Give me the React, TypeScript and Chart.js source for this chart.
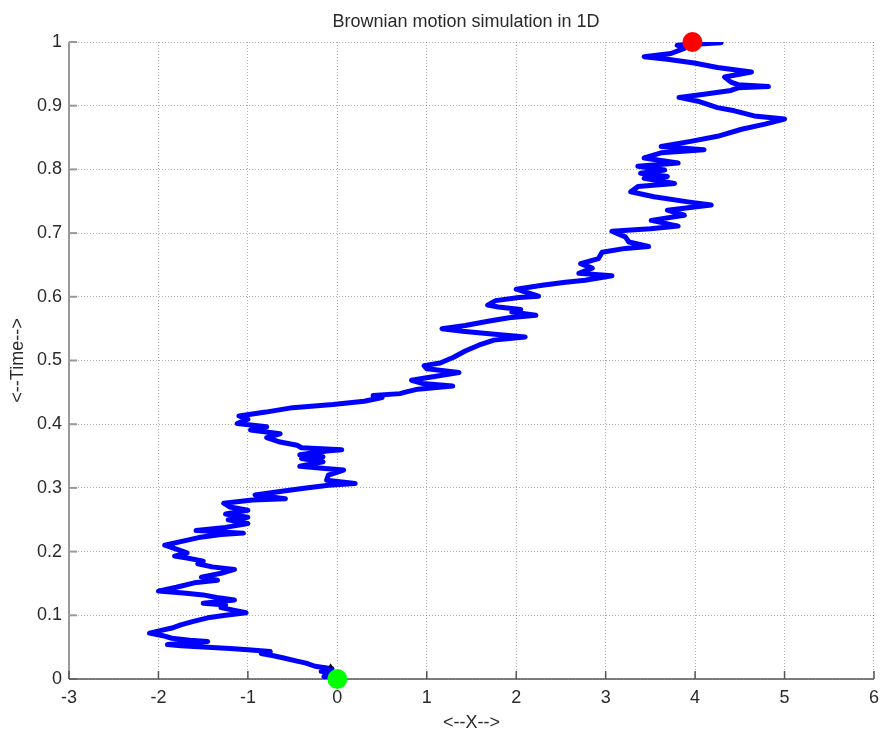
import React, { useEffect, useRef } from 'react';
import { Chart, registerables } from 'chart.js';

Chart.register(...registerables);

// Brownian path: X position and time
const pathX = [
  0, -0.15, -0.05, -0.18, -0.06, -0.25, -0.35, -0.45, -0.6, -0.7,
  -0.85, -0.75, -1.0, -1.2, -1.45, -1.75, -1.9, -1.7, -1.45, -1.65,
  -1.85, -1.95, -2.1, -1.98, -1.85, -1.75, -1.62, -1.45, -1.25, -1.02,
  -1.3, -1.25, -1.5, -1.15, -1.35, -1.5, -1.72, -2.0, -1.8, -1.6,
  -1.34, -1.52, -1.3, -1.15, -1.4, -1.56, -1.5, -1.68, -1.82, -1.68,
  -1.8, -1.93,
  -1.74, -1.55, -1.3, -1.05, -1.58, -1.25, -1.0, -1.22, -1.0, -1.25,
  -1.0, -1.2, -1.27, -0.95, -0.58, -0.92, -0.6, -0.35, -0.1, 0.2,
  -0.12, -0.1, 0.07, -0.17, -0.42, -0.16, -0.4, -0.16, -0.42, -0.12,
  0.05, -0.4, -0.45, -0.64, -0.79, -0.64, -0.97, -0.79, -1.12, -1.0,
  -1.1, -0.8, -0.5, -0.05, 0.3, 0.5, 0.4, 0.7,
  0.75, 0.9, 1.29, 0.95, 0.83, 1.05, 1.36, 1.0, 0.97, 1.15,
  1.3, 1.43, 1.58, 1.75, 2.1, 1.7, 1.4, 1.17, 1.43, 1.7,
  1.92, 2.22, 1.95, 2.05, 1.8, 1.68, 1.77, 2.03, 2.25, 2.0,
  2.29, 2.55, 2.77, 3.07, 2.7, 2.85, 2.72, 2.92, 2.96, 3.22,
  3.48, 3.26, 3.22, 3.07,
  3.5, 3.81, 3.51, 3.88, 3.69, 4.18, 3.92, 3.54, 3.28, 3.36,
  3.77, 3.43, 3.69, 3.39, 3.66, 3.36, 3.81, 3.43, 3.62, 4.1,
  3.62, 3.95, 4.25, 4.52, 4.78, 5.0, 4.66, 4.44, 4.25, 4.03,
  3.82, 4.1, 4.4, 4.48, 4.82, 4.48, 4.4, 4.33, 4.63, 4.25,
  3.99, 3.69, 3.43, 3.73, 3.88, 3.8, 4.29, 3.97,
];

const pathT = [
  0, 0.004, 0.008, 0.012, 0.016, 0.02, 0.025, 0.028, 0.033, 0.036,
  0.04, 0.043, 0.046, 0.048, 0.05, 0.052, 0.054, 0.056, 0.059, 0.061,
  0.064, 0.068, 0.072, 0.076, 0.08, 0.085, 0.09, 0.096, 0.1, 0.104,
  0.112, 0.116, 0.119, 0.124, 0.128, 0.132, 0.135, 0.138, 0.144, 0.151,
  0.155, 0.16, 0.166, 0.172, 0.176, 0.181, 0.185, 0.19, 0.193, 0.198,
  0.204, 0.21,
  0.216, 0.222, 0.227, 0.229, 0.233, 0.238, 0.244, 0.25, 0.254, 0.259,
  0.265, 0.27, 0.276, 0.281, 0.283, 0.289, 0.295, 0.3, 0.304, 0.307,
  0.312, 0.32, 0.328, 0.331, 0.334, 0.341, 0.346, 0.349, 0.352, 0.358,
  0.36, 0.363, 0.367, 0.372, 0.379, 0.385, 0.391, 0.396, 0.401, 0.408,
  0.413, 0.419, 0.426, 0.431, 0.436, 0.442, 0.445, 0.448,
  0.45, 0.455, 0.46, 0.464, 0.469, 0.474, 0.481, 0.487, 0.492, 0.496,
  0.505, 0.515, 0.524, 0.532, 0.537, 0.542, 0.546, 0.55, 0.555, 0.562,
  0.567, 0.571, 0.576, 0.58, 0.584, 0.587, 0.594, 0.599, 0.601, 0.612,
  0.618, 0.623, 0.626, 0.633, 0.637, 0.645, 0.652, 0.66, 0.67, 0.676,
  0.679, 0.686, 0.694, 0.703,
  0.707, 0.711, 0.72, 0.728, 0.736, 0.744, 0.749, 0.757, 0.765, 0.773,
  0.778, 0.786, 0.789, 0.794, 0.799, 0.805, 0.81, 0.818, 0.826, 0.831,
  0.836, 0.844, 0.852, 0.863, 0.871, 0.879, 0.884, 0.892, 0.897, 0.907,
  0.913, 0.918, 0.924, 0.928, 0.93, 0.933, 0.937, 0.945, 0.953, 0.96,
  0.967, 0.973, 0.977, 0.982, 0.99, 0.995, 0.999, 1.0,
];

const startPoint = { x: 0, y: 0 };
const endPoint = { x: 3.97, y: 1 };
const smallMark = { x: -0.075, y: 0.02 };

const xTicks = [-3, -2, -1, 0, 1, 2, 3, 4, 5, 6];
const yTicks = [0, 0.1, 0.2, 0.3, 0.4, 0.5, 0.6, 0.7, 0.8, 0.9, 1];
const yTickLabels = ['0', '0.1', '0.2', '0.3', '0.4', '0.5', '0.6', '0.7', '0.8', '0.9', '1'];

const titleText = 'Brownian motion simulation in 1D';
const xTitle = '<--X-->';
const yTitle = '<--Time-->';

const FONT = '"Liberation Sans", Arial, Helvetica, sans-serif';

const decorPlugin = {
  id: 'decor',
  beforeDatasetsDraw(chart: any) {
    const { ctx, chartArea: a, scales } = chart;
    ctx.save();
    ctx.setLineDash([]);
    // left axis
    ctx.strokeStyle = '#999999';
    ctx.lineWidth = 2;
    ctx.beginPath();
    ctx.moveTo(a.left, a.top);
    ctx.lineTo(a.left, a.bottom);
    ctx.stroke();
    scales.y.ticks.forEach((t: any) => {
      const py = scales.y.getPixelForValue(t.value);
      ctx.beginPath();
      ctx.moveTo(a.left, py);
      ctx.lineTo(a.left + 8, py);
      ctx.stroke();
    });
    // bottom axis
    ctx.strokeStyle = '#555555';
    ctx.lineWidth = 1.5;
    ctx.beginPath();
    ctx.moveTo(a.left, a.bottom);
    ctx.lineTo(a.right, a.bottom);
    ctx.stroke();
    scales.x.ticks.forEach((t: any) => {
      const px = scales.x.getPixelForValue(t.value);
      ctx.beginPath();
      ctx.moveTo(px, a.bottom);
      ctx.lineTo(px, a.bottom - 8);
      ctx.stroke();
    });
    ctx.restore();
  },
  afterDraw(chart: any) {
    const { ctx, chartArea: a } = chart;
    ctx.save();
    ctx.fillStyle = '#2a2a2a';
    ctx.font = `18px ${FONT}`;
    ctx.textAlign = 'center';
    ctx.textBaseline = 'middle';
    ctx.fillText(titleText, 466, 22);
    ctx.fillText(xTitle, (a.left + a.right) / 2, 723);
    ctx.translate(18, (a.top + a.bottom) / 2);
    ctx.rotate(-Math.PI / 2);
    ctx.fillText(yTitle, 0, 0);
    ctx.restore();
  },
};

export default function App() {
  const canvasRef = useRef<HTMLCanvasElement | null>(null);

  useEffect(() => {
    document.body.style.margin = '0';
    const canvas = canvasRef.current;
    if (!canvas) return;
    const path = pathX.map((x, i) => ({ x, y: pathT[i] }));
    const chart = new Chart(canvas, {
      type: 'scatter',
      data: {
        datasets: [
          {
            data: [startPoint],
            pointRadius: 10,
            pointBackgroundColor: '#00ff00',
            pointBorderWidth: 0,
            order: 0,
            clip: false,
          } as any,
          {
            data: [endPoint],
            pointRadius: 10,
            pointBackgroundColor: '#ff0000',
            pointBorderWidth: 0,
            order: 0,
            clip: false,
          } as any,
          {
            data: [smallMark],
            pointStyle: 'triangle',
            pointRadius: 3,
            pointBackgroundColor: '#000000',
            pointBorderWidth: 0,
            order: 1,
          } as any,
          {
            data: path,
            showLine: true,
            borderColor: '#0000ff',
            borderWidth: 5,
            borderJoinStyle: 'round',
            borderCapStyle: 'round',
            pointRadius: 0,
            tension: 0,
            order: 2,
          } as any,
        ],
      },
      options: {
        animation: false,
        responsive: false,
        maintainAspectRatio: false,
        devicePixelRatio: 1,
        layout: { padding: { top: 42, right: 11, left: 0, bottom: 0 } },
        plugins: {
          legend: { display: false },
          tooltip: { enabled: false },
          title: { display: false },
        },
        scales: {
          x: {
            type: 'linear',
            min: -3,
            max: 6,
            afterBuildTicks: (s: any) => {
              s.ticks = xTicks.map((v) => ({ value: v }));
            },
            afterFit: (s: any) => {
              s.height = 58;
            },
            grid: {
              color: 'rgba(0,0,0,0.32)',
              lineWidth: 1,
              drawTicks: false,
            },
            border: { display: false, dash: [1, 2] },
            ticks: {
              color: '#2a2a2a',
              font: { family: FONT, size: 18 },
              padding: 8,
              maxRotation: 0,
              autoSkip: false,
              callback: (v: any) => String(v),
            },
          },
          y: {
            type: 'linear',
            min: 0,
            max: 1,
            afterBuildTicks: (s: any) => {
              s.ticks = yTicks.map((v) => ({ value: v }));
            },
            afterFit: (s: any) => {
              s.width = 69;
            },
            grid: {
              color: 'rgba(0,0,0,0.32)',
              lineWidth: 1,
              drawTicks: false,
            },
            border: { display: false, dash: [1, 2] },
            ticks: {
              color: '#2a2a2a',
              font: { family: FONT, size: 18 },
              padding: 7,
              autoSkip: false,
              callback: (_v: any, i: number) => yTickLabels[i],
            },
          },
        },
      } as any,
      plugins: [decorPlugin],
    });
    return () => chart.destroy();
  }, []);

  return (
    <div style={{ width: 887, height: 737 }}>
      <canvas ref={canvasRef} width={887} height={737} style={{ display: 'block' }} />
    </div>
  );
}
